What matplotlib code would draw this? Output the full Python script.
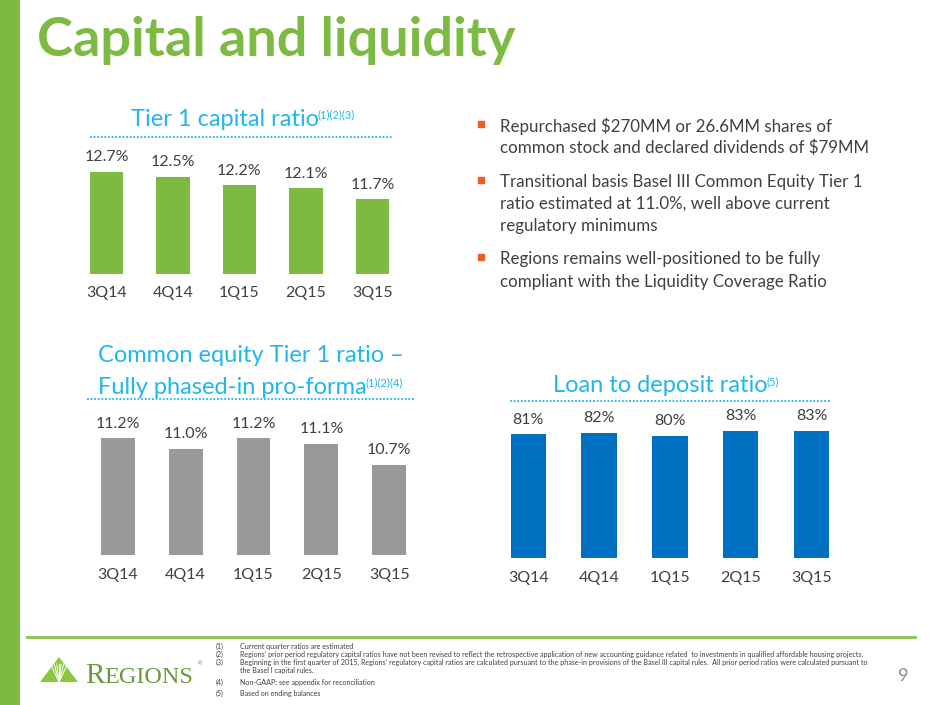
import numpy as np
import matplotlib
matplotlib.use("Agg")
import matplotlib.pyplot as plt
from matplotlib.lines import Line2D
from matplotlib.patches import Polygon, Rectangle

plt.rcParams['font.family'] = ['Lato', 'DejaVu Sans']

# datos
quarters = ['3Q14', '4Q14', '1Q15', '2Q15', '3Q15']
tier1 = [12.7, 12.5, 12.2, 12.1, 11.7]
cet1 = [11.2, 11.0, 11.2, 11.1, 10.7]
ltd = [81, 82, 80, 83, 83]

bullets = [
    ["Repurchased $270MM or 26.6MM shares of",
     "common stock and declared dividends of $79MM"],
    ["Transitional basis Basel III Common Equity Tier 1",
     "ratio estimated at 11.0%, well above current",
     "regulatory minimums"],
    ["Regions remains well-positioned to be fully",
     "compliant with the Liquidity Coverage Ratio"],
]

notes_num = ['(1)', '(2)', '(3)', '', '(4)', '(5)']
notes_txt = [
    "Current quarter ratios are estimated",
    "Regions\u2019 prior period regulatory capital ratios have not been revised to reflect the retrospective application of new accounting guidance related  to investments in qualified affordable housing projects.",
    "Beginning in the first quarter of 2015, Regions\u2019 regulatory capital ratios are calculated pursuant to the phase-in provisions of the Basel III capital rules.  All prior period ratios were calculated pursuant to",
    "the Basel I capital rules.",
    "Non-GAAP; see appendix for reconciliation",
    "Based on ending balances",
]

GREEN = '#7DBA42'
CYAN = '#21B6EC'
GRAY = '#999999'
BLUE = '#0070C0'
TXT = '#404040'

W, H = 940, 705
fig = plt.figure(figsize=(9.4, 7.05), dpi=100)
fig.patch.set_facecolor('white')
rend = fig.canvas.get_renderer()


def fx(x):
    return x / W


def fy(y):
    return 1 - y / H


def ax_px(left, top, right, bottom):
    return fig.add_axes([fx(left), fy(bottom), (right - left) / W, (bottom - top) / H])


# barra verde lateral
fig.add_artist(Rectangle((0, 0), fx(20), 1, transform=fig.transFigure, color=GREEN, lw=0))

fig.text(fx(37), fy(56), 'Capital and liquidity', fontsize=39, fontweight='bold',
         color=GREEN, va='baseline', ha='left')


def bar_chart(ax, vals, color, ymin, ymax, labels):
    x = np.arange(len(vals))
    ax.bar(x, np.array(vals) - ymin, bottom=ymin, width=0.5, color=color)
    ax.set_xlim(-0.5, len(vals) - 0.5)
    ax.set_ylim(ymin, ymax)
    for xi, v, lab in zip(x, vals, labels):
        ax.annotate(lab, (xi, v), xytext=(0, 10.5), textcoords='offset points',
                    ha='center', va='center', fontsize=11.5, color=TXT)
    ax.set_xticks(x)
    ax.set_xticklabels(quarters, fontsize=11.5, color=TXT)
    ax.tick_params(axis='x', length=0, pad=9)
    ax.set_yticks([])
    for s in ax.spines.values():
        s.set_visible(False)
    ax.patch.set_alpha(0)


def chart_title(lines, cx, ys, sup):
    # la ultima linea lleva las notas en superindice, se centra el conjunto
    for i, (line, y) in enumerate(zip(lines, ys)):
        t = fig.text(fx(cx), fy(y), line, fontsize=17, color=CYAN, ha='center', va='center')
        if i == len(lines) - 1:
            s = fig.text(0, fy(y - 4), sup, fontsize=8, color=CYAN, ha='left', va='center')
            wm = t.get_window_extent(renderer=rend).width
            ws = s.get_window_extent(renderer=rend).width
            x0 = cx - (wm + ws) / 2
            t.set_ha('left')
            t.set_x(fx(x0))
            s.set_x(fx(x0 + wm - 1.5))


def dotted(x0, x1, y):
    fig.add_artist(Line2D([fx(x0), fx(x1)], [fy(y), fy(y)], transform=fig.transFigure,
                          color=CYAN, lw=1.3, ls=(0, (1, 1))))


# Tier 1
ax1 = ax_px(73.25, 140, 405.75, 274)
bar_chart(ax1, tier1, GREEN, 9.0, 9.0 + 134 / 27.7, ['%.1f%%' % v for v in tier1])
chart_title(['Tier 1 capital ratio'], 244, [119], '(1)(2)(3)')
dotted(90, 392, 137)

# CET1
ax2 = ax_px(83.75, 405, 423.25, 555.3)
bar_chart(ax2, cet1, GRAY, 9.0, 9.0 + 150.3 / 53.2, ['%.1f%%' % v for v in cet1])
chart_title(['Common equity Tier 1 ratio \u2013', 'Fully phased-in pro-forma'], 251,
            [356, 387], '(1)(2)(4)')
dotted(87, 415, 399.3)

# Loan to deposit
ax3 = ax_px(492.95, 405, 846.95, 558.3)
bar_chart(ax3, ltd, BLUE, 0, 100, ['%d%%' % v for v in ltd])
chart_title(['Loan to deposit ratio'], 667, [386], '(5)')
dotted(510, 830, 401)

# vinetas
ys = [[126, 147.7], [181.7, 203.3, 225.7], [259, 281.7]]
for blk, yy in zip(bullets, ys):
    fig.add_artist(Line2D([fx(480.7)], [fy(yy[0] - 2)], transform=fig.transFigure,
                          marker='s', ms=4.5, color='#F15A24', lw=0))
    for line, y in zip(blk, yy):
        fig.text(fx(500.5), fy(y), line, fontsize=12.2, color=TXT, ha='left', va='center')

# pie
fig.add_artist(Line2D([fx(27), fx(915)], [fy(637.3), fy(637.3)], transform=fig.transFigure,
                      color='#8CC152', lw=2))
ny = [646, 654.3, 662.7, 670.7, 682.7, 693.3]
for n, t, y in zip(notes_num, notes_txt, ny):
    fig.text(fx(216), fy(y), n, fontsize=5.1, color=TXT, va='center')
    fig.text(fx(240), fy(y), t, fontsize=5.1, color=TXT, va='center')

fig.text(fx(903), fy(676), '9', fontsize=13, color='#8a8a8a', ha='center', va='center')

# logo
fig.add_artist(Polygon([[fx(40), fy(682)], [fx(78), fy(682)], [fx(59), fy(657)]],
                       closed=True, transform=fig.transFigure, color='#8DC63F', lw=0))
for dx in [-14, -8, -3.5, 0, 3.5, 8, 14]:
    fig.add_artist(Line2D([fx(59), fx(59 + dx * 0.6)], [fy(682), fy(664)],
                          transform=fig.transFigure, color='white', lw=0.7))
logo_r = fig.text(fx(85), fy(683), 'R', fontsize=21, family='Liberation Serif',
                  color='#6B9A3A', va='baseline')
wr = logo_r.get_window_extent(renderer=rend).width
fig.text(fx(85 + wr), fy(683), 'EGIONS', fontsize=17.5, family='Liberation Serif',
         color='#6B9A3A', va='baseline')
fig.text(fx(198), fy(664), '\u00ae', fontsize=4, color='#6B9A3A', va='center')

fig.savefig('out.png', dpi=100)
